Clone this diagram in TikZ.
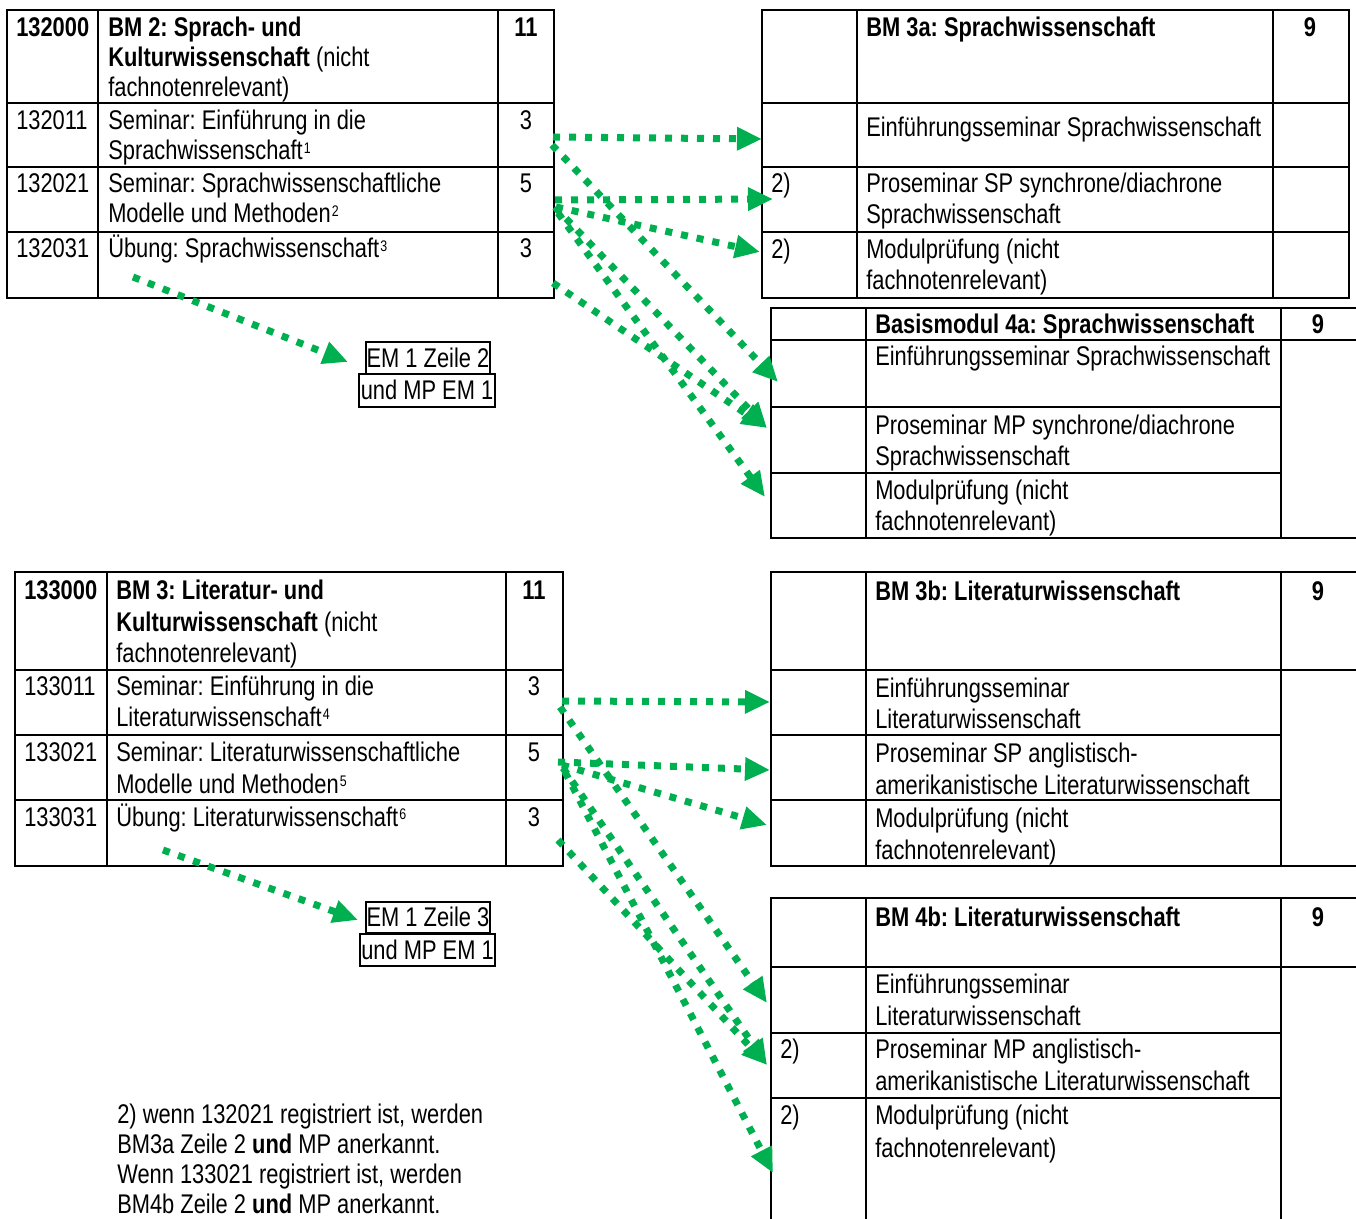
\documentclass[tikz,border=0pt]{standalone}
\usepackage{fontspec}
\setmainfont{Liberation Sans}[FakeStretch=0.81]
\usetikzlibrary{arrows.meta}
\definecolor{linkgreen}{HTML}{00B050}
\newcommand{\fnmark}[1]{\kern0.8pt\raisebox{5pt}{\fontsize{11.5pt}{11.5pt}\selectfont #1}}
\tikzset{
  cell/.style={anchor=base west, inner sep=0pt},
  credit/.style={anchor=base, inner sep=0pt},
  rule/.style={line width=1.5pt, line cap=rect},
  link/.style={draw=linkgreen, line width=5.25pt, dash pattern=on 5.25pt off 6.75pt,
    -{Triangle[length=18.75pt,width=16.5pt]}},
  embox/.style={draw, line width=1.5pt, inner sep=0pt, text height=15pt, text depth=1pt},
}
\begin{document}
\begin{tikzpicture}[x=0.75pt,y=-0.75pt,
  every node/.style={font=\fontsize{20.25pt}{24pt}\selectfont\frenchspacing}]
\path[use as bounding box] (0,0) rectangle (1356,1219);

% ---------- Table A : BM 2 ----------
\draw[rule] (7,10) rectangle (554,298);
\draw[rule] (98,10) -- (98,298) (498,10) -- (498,298);
\draw[rule] (7,103) -- (554,103) (7,167) -- (554,167) (7,232) -- (554,232);
\node[cell] (a0n) at (16,37) {\bfseries 132000};
\node[cell] (a0t1) at (108,37) {\bfseries BM 2: Sprach- und};
\node[cell] (a0t2) at (108,67) {\bfseries Kulturwissenschaft\mdseries{} (nicht};
\node[cell] (a0t3) at (108,97) {fachnotenrelevant)};
\node[credit] (a0c) at (526,37) {\bfseries 11};
\node[cell] (a1n) at (16,130) {132011};
\node[cell] (a1t1) at (108,130) {Seminar: Einführung in die};
\node[cell] (a1t2) at (108,160) {Sprachwissenschaft\fnmark{1}};
\node[credit] (a1c) at (526,130) {3};
\node[cell] (a2n) at (16,193) {132021};
\node[cell] (a2t1) at (108,193) {Seminar: Sprachwissenschaftliche};
\node[cell] (a2t2) at (108,223) {Modelle und Methoden\fnmark{2}};
\node[credit] (a2c) at (526,193) {5};
\node[cell] (a3n) at (16,258) {132031};
\node[cell] (a3t1) at (108,258) {Übung: Sprachwissenschaft\fnmark{3}};
\node[credit] (a3c) at (526,258) {3};

% ---------- Table B : BM 3a ----------
\draw[rule] (762,10) rectangle (1349,298);
\draw[rule] (857,10) -- (857,298) (1273,10) -- (1273,298);
\draw[rule] (762,103) -- (1349,103) (762,167) -- (1349,167) (762,232) -- (1349,232);
\node[cell] (b0t) at (866,37) {\bfseries BM 3a: Sprachwissenschaft};
\node[credit] (b0c) at (1310,37) {\bfseries 9};
\node[cell] (b1t) at (866,137) {Einführungsseminar Sprachwissenschaft};
\node[cell] (b2m) at (771,193) {2)};
\node[cell] (b2t1) at (866,193) {Proseminar SP synchrone/diachrone};
\node[cell] (b2t2) at (866,224) {Sprachwissenschaft};
\node[cell] (b3m) at (771,259) {2)};
\node[cell] (b3t1) at (866,259) {Modulprüfung (nicht};
\node[cell] (b3t2) at (866,290) {fachnotenrelevant)};

% ---------- Table C : Basismodul 4a ----------
\draw[rule] (1356,308) -- (771,308) -- (771,538) -- (1356,538);
\draw[rule] (771,340) -- (1356,340);
\draw[rule] (866,308) -- (866,538) (1281,308) -- (1281,538);
\draw[rule] (771,407) -- (1281,407) (771,473) -- (1281,473);
\node[cell] (c0t) at (875,334) {\bfseries Basismodul 4a: Sprachwissenschaft};
\node[credit] (c0c) at (1318,334) {\bfseries 9};
\node[cell] (c1t) at (875,366) {Einführungsseminar Sprachwissenschaft};
\node[cell] (c2t1) at (875,434) {Proseminar MP synchrone/diachrone};
\node[cell] (c2t2) at (875,465) {Sprachwissenschaft};
\node[cell] (c3t1) at (875,499) {Modulprüfung (nicht};
\node[cell] (c3t2) at (875,530) {fachnotenrelevant)};

% ---------- EM boxes (top) ----------
\node[embox, minimum width=93pt, minimum height=24pt] (em1) at (428,358) {EM 1 Zeile 2};
\node[embox, minimum width=102pt, minimum height=24.75pt] (em2) at (427,390.5) {und MP EM 1};

% ---------- Table D : BM 3 ----------
\draw[rule] (15,572) rectangle (563,866);
\draw[rule] (107,572) -- (107,866) (506,572) -- (506,866);
\draw[rule] (15,670) -- (563,670) (15,735) -- (563,735) (15,800) -- (563,800);
\node[cell] (d0n) at (24,599) {\bfseries 133000};
\node[cell] (d0t1) at (116,599) {\bfseries BM 3: Literatur- und};
\node[cell] (d0t2) at (116,631) {\bfseries Kulturwissenschaft\mdseries{} (nicht};
\node[cell] (d0t3) at (116,662) {fachnotenrelevant)};
\node[credit] (d0c) at (534,599) {\bfseries 11};
\node[cell] (d1n) at (24,695) {133011};
\node[cell] (d1t1) at (116,695) {Seminar: Einführung in die};
\node[cell] (d1t2) at (116,726) {Literaturwissenschaft\fnmark{4}};
\node[credit] (d1c) at (534,695) {3};
\node[cell] (d2n) at (24,761) {133021};
\node[cell] (d2t1) at (116,761) {Seminar: Literaturwissenschaftliche};
\node[cell] (d2t2) at (116,793) {Modelle und Methoden\fnmark{5}};
\node[credit] (d2c) at (534,761) {5};
\node[cell] (d3n) at (24,826) {133031};
\node[cell] (d3t1) at (116,826) {Übung: Literaturwissenschaft\fnmark{6}};
\node[credit] (d3c) at (534,826) {3};

% ---------- Table E : BM 3b ----------
\draw[rule] (1356,572) -- (771,572) -- (771,866) -- (1356,866);
\draw[rule] (771,670) -- (1356,670);
\draw[rule] (866,572) -- (866,866) (1281,572) -- (1281,866);
\draw[rule] (771,735) -- (1281,735) (771,800) -- (1281,800);
\node[cell] (e0t) at (875,600) {\bfseries BM 3b: Literaturwissenschaft};
\node[credit] (e0c) at (1318,600) {\bfseries 9};
\node[cell] (e1t1) at (875,697) {Einführungsseminar};
\node[cell] (e1t2) at (875,728) {Literaturwissenschaft};
\node[cell] (e2t1) at (875,762) {Proseminar SP anglistisch-};
\node[cell] (e2t2) at (875,794) {amerikanistische Literaturwissenschaft};
\node[cell] (e3t1) at (875,827) {Modulprüfung (nicht};
\node[cell] (e3t2) at (875,859) {fachnotenrelevant)};

% ---------- Table F : BM 4b ----------
\draw[rule] (1356,898) -- (771,898) -- (771,1222);
\draw[rule] (771,967) -- (1356,967);
\draw[rule] (866,898) -- (866,1222) (1281,898) -- (1281,1222);
\draw[rule] (771,1033) -- (1281,1033) (771,1098) -- (1281,1098);
\node[cell] (f0t) at (875,926) {\bfseries BM 4b: Literaturwissenschaft};
\node[credit] (f0c) at (1318,926) {\bfseries 9};
\node[cell] (f1t1) at (875,993) {Einführungsseminar};
\node[cell] (f1t2) at (875,1025) {Literaturwissenschaft};
\node[cell] (f2m) at (780,1058) {2)};
\node[cell] (f2t1) at (875,1058) {Proseminar MP anglistisch-};
\node[cell] (f2t2) at (875,1090) {amerikanistische Literaturwissenschaft};
\node[cell] (f3m) at (780,1124) {2)};
\node[cell] (f3t1) at (875,1124) {Modulprüfung (nicht};
\node[cell] (f3t2) at (875,1157) {fachnotenrelevant)};

% ---------- EM boxes (bottom) ----------
\node[embox, minimum width=93pt, minimum height=23.25pt] (em3) at (428,917.5) {EM 1 Zeile 3};
\node[embox, minimum width=101.25pt, minimum height=24pt] (em4) at (427.5,950) {und MP EM 1};

% ---------- footnote ----------
\node[cell] (fn1) at (117,1123) {2) wenn 132021 registriert ist, werden};
\node[cell] (fn2) at (117,1153) {BM3a Zeile 2 \textbf{und} MP anerkannt.};
\node[cell] (fn3) at (117,1183) {Wenn 133021 registriert ist, werden};
\node[cell] (fn4) at (117,1213) {BM4b Zeile 2 \textbf{und} MP anerkannt.};

% ---------- connector end points ----------
\coordinate (sA1) at (553,137);  \coordinate (tA1) at (762,139);
\coordinate (sA2) at (552,145);  \coordinate (tA2) at (778,382);
\coordinate (sA3) at (555,200);  \coordinate (tA3) at (773,199);
\coordinate (sA4) at (556,207);  \coordinate (tA4) at (760,252);
\coordinate (sA5) at (555,207);  \coordinate (tA5) at (767,428);
\coordinate (sA6) at (558,213);  \coordinate (tA6) at (765,497);
\coordinate (sA7) at (553,283);
\coordinate (sA8) at (133,277);  \coordinate (tA8) at (348,362);
\coordinate (sB1) at (562,701);  \coordinate (tB1) at (770,702);
\coordinate (sB2) at (560,707);  \coordinate (tB2) at (767,1003);
\coordinate (sB3) at (558,762);  \coordinate (tB3) at (770,770);
\coordinate (sB4) at (562,765);  \coordinate (tB4) at (767,825);
\coordinate (sB5) at (563,768);  \coordinate (tB5) at (767,1065);
\coordinate (sB6) at (565,772);  \coordinate (tB6) at (773,1173);
\coordinate (sB7) at (558,840);
\coordinate (sB8) at (163,850);  \coordinate (tB8) at (358,920);

% ---------- connectors ----------
\draw[link] (sA1) -- (tA1);
\draw[link] (sA2) -- (tA2);
\draw[link] (sA3) -- (tA3);
\draw[link] (sA4) -- (tA4);
\draw[link] (sA5) -- (tA5);
\draw[link] (sA6) -- (tA6);
\draw[link] (sA7) -- (tA5);
\draw[link] (sA8) -- (tA8);
\draw[link] (sB1) -- (tB1);
\draw[link] (sB2) -- (tB2);
\draw[link] (sB3) -- (tB3);
\draw[link] (sB4) -- (tB4);
\draw[link] (sB5) -- (tB5);
\draw[link] (sB6) -- (tB6);
\draw[link] (sB7) -- (tB5);
\draw[link] (sB8) -- (tB8);
\end{tikzpicture}
\end{document}
